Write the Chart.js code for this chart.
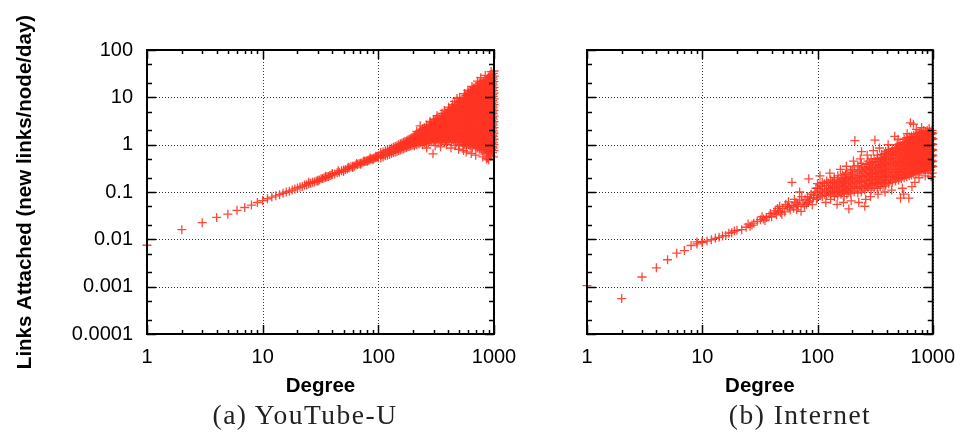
<!DOCTYPE html>
<html>
<head>
<meta charset="utf-8">
<script src="https://cdn.jsdelivr.net/npm/chart.js@4.4.1/dist/chart.umd.min.js"></script>
<style>
  body { margin: 0; background: #fff; }
  #wrap { position: relative; width: 966px; height: 433px; overflow: hidden; }
  canvas { position: absolute; top: 0; }
  .cap {
    position: absolute; top: 400px; line-height: 30px;
    font-family: 'Liberation Serif', 'DejaVu Serif', serif; font-size: 27.5px; letter-spacing: 1.5px;
    color: #222; white-space: nowrap; transform: translateX(-50%);
  }
</style>
</head>
<body>
<div id="wrap">
  <canvas id="ytChart" width="540" height="433" style="left:0"></canvas>
  <canvas id="netChart" width="486" height="433" style="left:480px"></canvas>
  <div class="cap" style="left:305px">(a) YouTube-U</div>
  <div class="cap" style="left:800px">(b) Internet</div>
</div>

<script>
// ── Data ────────────────────────────────────────────────

const xTickValues = [1, 10, 100, 1000];
const yTickValues = [0.0001, 0.001, 0.01, 0.1, 1, 10, 100];
const yTickLabels = ['0.0001', '0.001', '0.01', '0.1', '1', '10', '100'];
const xMinorSteps = [2, 3, 4, 5, 6, 7, 8, 9];
const yMinorSteps = [2, 5];

// [degree, [links attached per node per day, ...]]
const youtubeData = [
  [1,[0.0075]],[2,[0.016]],[3,[0.0225]],[4,[0.029]],[5,[0.034]],[6,[0.041]],[7,[0.047]],[8,[0.053]],[9,[0.06]],[10,[0.066]],
  [11,[0.072]],[12,[0.078]],[13,[0.083]],[14,[0.088]],[15,[0.094]],[16,[0.1]],[17,[0.104]],[18,[0.11]],[19,[0.116]],[20,[0.122]],
  [21,[0.127]],[22,[0.131]],[23,[0.14]],[24,[0.142]],[25,[0.15,0.16]],[26,[0.153]],[27,[0.16]],[28,[0.163]],[29,[0.17]],[30,[0.168,0.178]],
  [31,[0.18]],[32,[0.19]],[33,[0.192]],[34,[0.2]],[35,[0.204,0.215]],[36,[0.21]],[37,[0.212]],[38,[0.222]],[39,[0.225]],[40,[0.232,0.245]],
  [42,[0.24]],[44,[0.255]],[45,[0.28]],[46,[0.26]],[48,[0.28]],[50,[0.27,0.29]],[52,[0.3]],[54,[0.31]],[55,[0.335]],[56,[0.325]],
  [58,[0.34]],[60,[0.33,0.35]],[62,[0.355]],[64,[0.37]],[65,[0.4]],[66,[0.38]],[68,[0.395]],[70,[0.385,0.405]],[72,[0.41]],[74,[0.43]],
  [75,[0.45]],[76,[0.44]],[78,[0.445]],[80,[0.44,0.465]],[82,[0.47]],[84,[0.48]],[85,[0.52]],[86,[0.495]],[88,[0.5]],[90,[0.48,0.51]],
  [92,[0.525]],[94,[0.53]],[95,[0.57]],[96,[0.545]],[98,[0.555]],[100,[0.53,0.58]],
  [105,[0.52,0.6,0.68]],[110,[0.55,0.63,0.7]],[115,[0.58,0.66,0.74]],[120,[0.6,0.69,0.78]],[125,[0.62,0.72,0.8]],
  [130,[0.65,0.75,0.84]],[135,[0.68,0.78,0.88]],[140,[0.7,0.8,0.92]],[145,[0.72,0.84,0.95]],[150,[0.75,0.87,1.0]],
  [155,[0.77,0.9,1.04]],[160,[0.8,0.93,1.08]],[165,[0.82,0.96,1.12]],[170,[0.85,1.0,1.16]],[175,[0.87,1.02,1.2]],
  [180,[0.9,1.06,1.25]],[185,[0.92,1.1,1.3]],[190,[0.95,1.12,1.34]],[195,[0.97,1.16,1.4]],[200,[1.0,1.2,1.45]],
  [205,[0.95,1.2,1.5]],[210,[1.05,1.3,1.6]],[215,[1.0,1.25,1.55,1.9]],[220,[1.1,1.35,1.7]],[225,[1.05,1.4,1.8]],
  [230,[1.1,1.3,1.6,2.0,2.5]],[235,[1.15,1.45,1.85]],[240,[1.0,1.3,1.6,2.1]],[245,[1.2,1.5,1.9]],[250,[1.1,1.4,1.75,2.3]],
  [255,[1.2,1.55,2.0]],[260,[1.05,1.35,1.7,2.2,2.6]],[262,[0.85]],[265,[1.25,1.6,2.05]],[270,[1.1,1.45,1.85,2.4]],[275,[1.3,1.7,2.2]],
  [280,[1.15,1.5,1.9,2.6,3.1]],[285,[1.3,1.75,2.3,2.9]],[290,[1.2,1.55,2.0,2.5]],[295,[1.35,1.8,2.4]],[297,[0.64]],
  [300,[1.2,1.6,2.1,2.8,3.4]],
  [305,[1.3,1.75,2.3,2.9]],[310,[0.95,1.2,1.5,2.0,2.6,3.3]],[315,[1.4,1.85,2.4]],[320,[1.25,1.6,2.1,2.8,3.6]],[322,[4.1]],
  [325,[1.35,1.9,2.5,3.1]],[330,[1.15,1.5,2.0,2.6]],[335,[1.4,1.8,2.3,3.0,3.8]],[340,[1.25,1.6,2.1,2.7]],
  [345,[0.9,1.45,1.95,2.5,3.3]],[350,[1.2,1.55,2.0,2.8,4.0]],[355,[1.4,1.8,2.3,3.1,4.6]],[360,[1.3,1.7,2.2,2.9,3.6]],
  [365,[1.5,2.0,2.6,3.4,4.2]],[370,[1.1,1.45,1.9,2.5,3.2]],[372,[5.3]],[375,[1.35,1.8,2.4,3.0,3.9]],[380,[1.25,1.6,2.1,2.8,3.6,4.6]],
  [385,[1.45,1.9,2.5,3.3]],[388,[1.0]],[390,[1.2,1.55,2.0,2.7,3.5,4.4]],[395,[1.4,1.85,2.4,3.1,4.0]],[400,[1.3,1.7,2.2,2.9,3.8,4.8]],
  [405,[6.2]],[410,[1.2,1.6,2.1,2.8,3.6,4.7,5.6]],[420,[1.35,1.8,2.4,3.1,4.0,5.2]],[425,[0.85]],[430,[1.15,1.5,2.0,2.6,3.4,4.4,6.0]],
  [437,[7.0]],[440,[1.3,1.7,2.2,2.9,3.8,5.0,6.3]],[450,[1.2,1.55,2.05,2.7,3.5,4.6,5.8]],[455,[8.2]],[460,[1.4,1.85,2.4,3.2,4.2,5.4,6.8]],
  [462,[0.95]],[470,[1.1,1.45,1.9,2.5,3.3,4.3,5.6,7.2]],[478,[9.4]],[480,[1.3,1.7,2.25,3.0,3.9,5.1,6.5]],[490,[1.2,1.6,2.1,2.8,3.7,4.8,6.2,7.8]],
  [495,[0.8]],[500,[1.0,1.35,1.8,2.4,3.2,4.2,5.5,7.0]],[505,[10]],[510,[1.25,1.65,2.2,2.9,3.8,5.0,6.6,8.4]],[520,[1.1,1.45,1.9,2.6,3.4,4.5,6.0,7.6]],
  [530,[1.3,1.75,2.3,3.1,4.1,5.4,7.2,9.0]],[540,[0.95,1.2,1.6,2.1,2.8,3.7,4.9,6.5,8.2]],[545,[0.75]],[550,[1.15,1.5,2.0,2.7,3.6,4.7,6.2,8.0,9.8]],
  [555,[12]],[560,[1.0,1.3,1.75,2.3,3.0,4.0,5.3,7.0,9.2]],[570,[1.2,1.6,2.1,2.8,3.7,4.9,6.5,8.5,11]],[575,[0.7]],
  [580,[0.9,1.1,1.45,1.9,2.5,3.3,4.4,5.8,7.6,10]],[590,[1.25,1.65,2.2,2.9,3.9,5.1,6.8,9.0,11.5]],[595,[14]],
  [600,[1.0,1.35,1.8,2.4,3.2,4.2,5.6,7.4,9.8,12.5]],[610,[1.15,1.5,2.0,2.7,3.5,4.7,6.2,8.2,10.8]],
  [620,[0.95,1.25,1.65,2.2,2.9,3.9,5.1,6.8,9.0,12,14]],[630,[1.1,1.45,1.9,2.5,3.4,4.5,5.9,7.8,10.3,13]],[635,[0.65]],
  [640,[1.2,1.6,2.1,2.8,3.7,4.9,6.5,8.6,11.4]],[645,[17]],[650,[0.85,1.05,1.4,1.85,2.45,3.25,4.3,5.7,7.5,10,13.5]],
  [660,[1.15,1.5,2.0,2.65,3.5,4.6,6.1,8.1,10.7,14.5]],[670,[1.0,1.3,1.7,2.3,3.0,4.0,5.3,7.0,9.3,12.3,16]],
  [680,[1.2,1.6,2.1,2.8,3.7,4.9,6.5,8.6,11.4,15]],[690,[0.9,1.15,1.5,2.0,2.65,3.5,4.6,6.1,8.1,10.7,14]],[695,[0.6]],
  [700,[1.05,1.4,1.85,2.45,3.25,4.3,5.7,7.5,10,13,17]],[720,[22]],
  [715,[0.85,1.1,1.45,1.9,2.5,3.3,4.4,5.8,7.7,10.2,13.5,18]],[730,[1.0,1.3,1.7,2.25,3.0,3.95,5.2,6.9,9.1,12,16]],
  [745,[0.8,1.05,1.4,1.8,2.4,3.2,4.2,5.6,7.4,9.8,13,17.5,20]],[760,[0.95,1.25,1.65,2.2,2.9,3.8,5.0,6.6,8.8,11.6,15.4]],
  [768,[26]],[775,[0.75,1.0,1.3,1.75,2.3,3.05,4.0,5.3,7.0,9.3,12.3,16.3,21]],[790,[0.9,1.2,1.55,2.05,2.7,3.6,4.75,6.3,8.3,11,14.5,19]],
  [800,[0.55]],[805,[0.85,1.1,1.45,1.9,2.55,3.35,4.45,5.9,7.8,10.3,13.6,18,22]],[820,[0.7,0.95,1.25,1.65,2.2,2.9,3.85,5.1,6.7,8.9,11.8,15.6,20.5]],
  [835,[0.9,1.15,1.55,2.05,2.7,3.55,4.7,6.2,8.2,10.9,14.4,19]],[840,[29]],[850,[0.8,1.05,1.35,1.8,2.4,3.15,4.2,5.5,7.3,9.7,12.8,16.9,22.5]],
  [860,[0.5]],[865,[0.65,0.88,1.15,1.5,2.0,2.65,3.5,4.65,6.15,8.1,10.7,14.2,18.8,24]],[880,[0.52,0.8,1.05,1.4,1.85,2.45,3.25,4.3,5.7,7.5,9.9,13.1,17.3,23]],
  [895,[0.7,0.95,1.25,1.65,2.2,2.9,3.85,5.1,6.75,8.9,11.8,15.6,20.6,27]],[900,[0.48]],[910,[0.6,0.85,1.1,1.45,1.95,2.55,3.4,4.5,5.95,7.85,10.4,13.7,18.2,24]],
  [925,[0.75,1.0,1.3,1.75,2.3,3.05,4.0,5.3,7.0,9.3,12.3,16.2,21.5,28]],[940,[0.6,0.9,1.2,1.55,2.05,2.7,3.6,4.75,6.3,8.3,11,14.5,19.2,25]],
  [945,[35]],[955,[0.78,1.05,1.4,1.85,2.4,3.2,4.25,5.6,7.4,9.8,13,17.2,22.7,30]],[970,[0.68,0.92,1.2,1.6,2.15,2.85,3.75,4.95,6.55,8.65,11.4,15.1,20,26.5]],
  [985,[0.85,1.1,1.5,1.95,2.6,3.45,4.55,6.0,7.95,10.5,13.9,18.4,24.3,32]],[990,[0.55]],[1000,[0.75,1.0,1.3,1.75,2.3,3.05,4.0,5.3,7.0,9.3,12.3,16.2,21.5,28,36]]
];

const internetData = [
  [1,[0.00105]],[2,[0.00056]],[3,[0.0016]],[4,[0.0025]],[5,[0.0037]],[6,[0.0051]],[7,[0.0058]],[8,[0.0074]],[9,[0.008,0.0088]],[10,[0.0085,0.009]],
  [11,[0.0092]],[12,[0.0098]],[13,[0.0105]],[14,[0.011]],[15,[0.0118]],[16,[0.012]],[17,[0.0135]],[18,[0.0138]],[19,[0.015]],[20,[0.0155]],
  [22,[0.016]],[24,[0.018]],[25,[0.021]],[26,[0.019]],[27,[0.02]],[28,[0.022]],[30,[0.024]],[32,[0.026]],[33,[0.03]],[34,[0.027]],
  [35,[0.025]],[36,[0.029]],[38,[0.031]],[39,[0.035]],[40,[0.03]],[42,[0.036]],[43,[0.04]],[44,[0.033]],[45,[0.045]],[46,[0.04]],
  [47,[0.05]],[48,[0.037]],[49,[0.034]],[50,[0.045]],[52,[0.038]],[53,[0.055]],[55,[0.05]],[56,[0.062]],[57,[0.047]],[58,[0.042]],
  [60,[0.052,0.16]],[62,[0.046]],[63,[0.07]],[65,[0.06]],[66,[0.042]],[67,[0.055]],[68,[0.05]],[70,[0.065,0.1]],[72,[0.039]],[73,[0.08]],
  [75,[0.058]],[77,[0.05]],[78,[0.07]],[80,[0.055]],[82,[0.08]],[83,[0.06]],[84,[0.19]],[85,[0.065]],[87,[0.075]],[88,[0.09]],
  [90,[0.054]],[92,[0.075]],[93,[0.085]],[95,[0.1]],[97,[0.12]],[98,[0.07]],
  [100,[0.075,0.095,0.12,0.15]],[105,[0.085,0.11,0.14,0.22]],[110,[0.08,0.1,0.13,0.16]],[115,[0.09,0.115,0.15]],[118,[0.06]],
  [120,[0.085,0.105,0.135,0.17]],[125,[0.095,0.12,0.155]],[128,[0.25]],[130,[0.07,0.09,0.11,0.14,0.18]],[135,[0.1,0.125,0.16]],
  [140,[0.08,0.1,0.13,0.17,0.2]],[145,[0.095,0.12,0.15]],[148,[0.055]],[150,[0.085,0.11,0.14,0.18,0.22]],[155,[0.1,0.13,0.165]],
  [158,[0.3]],[160,[0.09,0.115,0.15,0.19]],[165,[0.105,0.135,0.17,0.23]],[168,[0.06]],[170,[0.08,0.1,0.125,0.16,0.2]],
  [175,[0.11,0.14,0.18,0.24]],[178,[0.35]],[180,[0.09,0.115,0.15,0.19,0.26]],[187,[0.044,0.1,0.13,0.17,0.21]],
  [194,[0.095,0.12,0.16,0.2,0.28]],[196,[0.065]],[200,[0.11,0.14,0.18,0.23,0.3]],[205,[0.45]],
  [208,[0.1,0.13,0.17,0.22,0.34]],[211,[1.22]],[216,[0.12,0.15,0.19,0.25]],[224,[0.095,0.12,0.16,0.2,0.27,0.36]],[228,[0.06]],
  [232,[0.13,0.17,0.22,0.29]],[235,[0.5]],[240,[0.1,0.13,0.17,0.22,0.3,0.4]],[241,[0.71]],[248,[0.12,0.16,0.21,0.27,0.34]],
  [257,[0.05,0.11,0.14,0.18,0.24,0.32]],[262,[0.07]],[265,[0.13,0.17,0.22,0.29,0.38]],[270,[0.6]],[274,[0.12,0.15,0.2,0.26,0.34,0.45]],
  [283,[0.14,0.18,0.23,0.3,0.4]],[288,[0.08]],[292,[0.11,0.15,0.19,0.25,0.33,0.5]],[300,[0.14,0.18,0.24,0.31,0.42]],[305,[0.75]],
  [310,[0.12,0.16,0.21,0.28,0.37,0.5]],[315,[1.25]],[320,[0.15,0.19,0.25,0.33,0.44]],[330,[0.12,0.16,0.21,0.28,0.37,0.5,0.6]],
  [335,[0.09]],[340,[0.15,0.2,0.26,0.34,0.45]],[345,[0.85]],[350,[0.13,0.17,0.22,0.29,0.38,0.5]],[360,[0.16,0.21,0.27,0.36,0.48,0.62]],
  [370,[0.13,0.18,0.23,0.3,0.4,0.53]],[380,[0.16,0.21,0.28,0.37,0.49,0.65]],[385,[0.1]],[390,[0.14,0.18,0.24,0.32,0.42,0.56,0.72]],
  [400,[0.17,0.22,0.29,0.38,0.5,0.66]],[410,[1.0]],[415,[0.15,0.2,0.26,0.34,0.45,0.6,0.78]],[430,[0.18,0.23,0.3,0.4,0.52,0.69]],
  [440,[0.11]],[445,[0.16,0.21,0.27,0.36,0.47,0.62,0.82]],[460,[0.19,0.25,0.32,0.42,0.55,0.72]],[468,[1.5]],
  [475,[0.17,0.22,0.29,0.38,0.5,0.65,0.86]],[490,[0.2,0.26,0.34,0.44,0.58,0.76,1.0]],[500,[1.3]],[505,[0.18,0.23,0.3,0.4,0.52,0.68,0.9]],
  [520,[0.2,0.27,0.35,0.46,0.6,0.79,1.05]],[525,[0.074]],[535,[0.19,0.24,0.32,0.42,0.55,0.72,0.95]],[545,[0.12]],
  [550,[0.22,0.28,0.37,0.48,0.63,0.82,1.1]],[560,[0.09]],[565,[0.2,0.26,0.34,0.44,0.58,0.76,1.0,1.3]],[580,[0.23,0.3,0.39,0.51,0.67,0.88,1.15]],
  [595,[0.21,0.27,0.36,0.47,0.61,0.8,1.05,1.4]],[600,[1.7]],[610,[0.24,0.31,0.41,0.54,0.7,0.92,1.2]],[620,[0.074]],
  [625,[0.22,0.29,0.38,0.49,0.64,0.84,1.1,1.45]],[640,[0.25,0.33,0.43,0.56,0.74,0.97,1.25,2.9]],
  [655,[0.23,0.3,0.39,0.52,0.68,0.88,1.15,1.5]],[660,[0.13]],[670,[0.26,0.34,0.45,0.59,0.77,1.0,1.3]],[680,[2.7]],
  [685,[0.24,0.31,0.41,0.54,0.7,0.92,1.2,1.6]],[700,[0.16,0.27,0.35,0.46,0.61,0.8,1.05,1.35]],
  [715,[0.25,0.33,0.43,0.56,0.74,0.97,1.25,1.7]],[720,[2.1]],[730,[0.28,0.37,0.48,0.63,0.83,1.1,1.4]],
  [745,[0.26,0.34,0.45,0.59,0.77,1.0,1.3,1.75]],[760,[0.2,0.29,0.38,0.5,0.65,0.86,1.12,1.45]],
  [775,[0.27,0.35,0.46,0.61,0.8,1.05,1.35,1.8]],[790,[0.3,0.39,0.52,0.68,0.89,1.15,1.5]],[800,[2.3]],
  [805,[0.28,0.37,0.48,0.63,0.83,1.08,1.4,1.9]],[820,[0.31,0.41,0.53,0.7,0.92,1.2,1.55]],
  [835,[0.29,0.38,0.5,0.66,0.86,1.12,1.45,2.0]],[850,[0.32,0.42,0.55,0.72,0.95,1.25,1.6]],[860,[0.22]],
  [865,[0.3,0.39,0.51,0.67,0.88,1.15,1.5,1.9]],[880,[0.33,0.43,0.56,0.74,0.97,1.27,1.65]],
  [895,[0.31,0.4,0.53,0.69,0.9,1.18,1.55,2.0]],[910,[0.25,0.34,0.44,0.58,0.76,1.0,1.3,1.7]],
  [925,[0.32,0.41,0.54,0.71,0.93,1.22,1.6]],[930,[2.2]],[940,[0.35,0.45,0.59,0.78,1.02,1.35,1.9]],[950,[0.29]],
  [955,[0.33,0.43,0.56,0.73,0.96,1.26,1.65]],[970,[0.21,0.36,0.47,0.61,0.8,1.05,1.4,1.8]],
  [985,[0.34,0.44,0.58,0.76,1.0,1.3,1.7,2.0]],[990,[0.25]],[1000,[0.35,0.45,0.6,0.78,1.02,1.34,1.75]]
];

// ── Gnuplot-like frame: dotted grid, inward ticks on all four sides ──

const gnuplotFrame = {
  id: 'gnuplotFrame',
  beforeDatasetsDraw(chart) {
    const { ctx, chartArea: a, scales: { x, y } } = chart;
    ctx.save();
    ctx.strokeStyle = '#333';
    ctx.lineWidth = 1;
    ctx.setLineDash([1, 2]);
    ctx.beginPath();
    xTickValues.forEach((v) => {
      const px = Math.round(x.getPixelForValue(v)) + 0.5;
      ctx.moveTo(px, a.top); ctx.lineTo(px, a.bottom);
    });
    yTickValues.forEach((v) => {
      const py = Math.round(y.getPixelForValue(v)) + 0.5;
      ctx.moveTo(a.left, py); ctx.lineTo(a.right, py);
    });
    ctx.stroke();
    ctx.restore();
  },
  afterDatasetsDraw(chart) {
    const { ctx, chartArea: a, scales: { x, y } } = chart;
    ctx.save();
    ctx.strokeStyle = '#000';
    ctx.setLineDash([]);
    ctx.lineWidth = 1.5;
    ctx.beginPath();
    const tickX = (v, len) => {
      const px = Math.round(x.getPixelForValue(v)) + 0.5;
      ctx.moveTo(px, a.bottom); ctx.lineTo(px, a.bottom - len);
      ctx.moveTo(px, a.top); ctx.lineTo(px, a.top + len);
    };
    const tickY = (v, len) => {
      const py = Math.round(y.getPixelForValue(v)) + 0.5;
      ctx.moveTo(a.left, py); ctx.lineTo(a.left + len, py);
      ctx.moveTo(a.right, py); ctx.lineTo(a.right - len, py);
    };
    xTickValues.forEach((v, i) => {
      tickX(v, 9);
      if (i < xTickValues.length - 1) xMinorSteps.forEach((m) => tickX(v * m, 4));
    });
    yTickValues.forEach((v, i) => {
      tickY(v, 9);
      if (i < yTickValues.length - 1) yMinorSteps.forEach((m) => tickY(v * m, 5));
    });
    ctx.stroke();
    ctx.lineWidth = 2;
    ctx.strokeRect(a.left, a.top, a.right - a.left, a.bottom - a.top);
    ctx.restore();
  }
};

// ── Chart factory ───────────────────────────────

function makeChart(canvasId, columns, showYAxisText, yAxisWidth, padRight) {
  const tickFont = { family: "'Liberation Sans', Arial, sans-serif", size: 20 };
  const titleFont = { family: "'Liberation Sans', Arial, sans-serif", size: 20.5, weight: 'bold' };
  const points = columns.flatMap(([d, vals]) => vals.map((v) => ({ x: d, y: v })));
  return new Chart(document.getElementById(canvasId), {
    type: 'scatter',
    data: {
      datasets: [{
        data: points,
        pointStyle: 'cross',
        pointRadius: 4.5,
        pointBorderWidth: 1.3,
        borderColor: 'rgba(255, 52, 34, 0.9)',
        backgroundColor: 'rgba(255, 52, 34, 0.9)',
        clip: false,
      }],
    },
    options: {
      responsive: false,
      animation: false,
      events: [],
      layout: { padding: { top: 50, right: padRight, bottom: 0, left: 0 } },
      plugins: { legend: { display: false }, tooltip: { enabled: false } },
      scales: {
        x: {
          type: 'logarithmic',
          min: 1, max: 1000,
          grid: { display: false, drawTicks: false },
          border: { display: false },
          afterBuildTicks: (s) => { s.ticks = xTickValues.map((v) => ({ value: v })); },
          afterFit: (s) => { s.height = 99; },
          ticks: {
            autoSkip: false, maxRotation: 0, padding: 11, color: '#000', font: tickFont,
            callback: (v) => String(v),
          },
          title: {
            display: true, text: 'Degree', color: '#000', font: titleFont,
            padding: { top: 0, bottom: 34 },
          },
        },
        y: {
          type: 'logarithmic',
          min: 0.0001, max: 100,
          grid: { display: false, drawTicks: false },
          border: { display: false },
          afterBuildTicks: (s) => { s.ticks = yTickValues.map((v) => ({ value: v })); },
          afterFit: (s) => { s.width = yAxisWidth; },
          ticks: {
            display: showYAxisText, autoSkip: false, padding: 14, color: '#000', font: tickFont,
            callback: (v) => yTickLabels[yTickValues.indexOf(v)] ?? '',
          },
          title: {
            display: showYAxisText, text: 'Links Attached (new links/node/day)', color: '#000',
            font: titleFont, padding: { top: 13, bottom: 0 },
          },
        },
      },
    },
    plugins: [gnuplotFrame],
  });
}

makeChart('ytChart', youtubeData, true, 147, 46);
makeChart('netChart', internetData, false, 107, 31);
</script>
</body>
</html>
